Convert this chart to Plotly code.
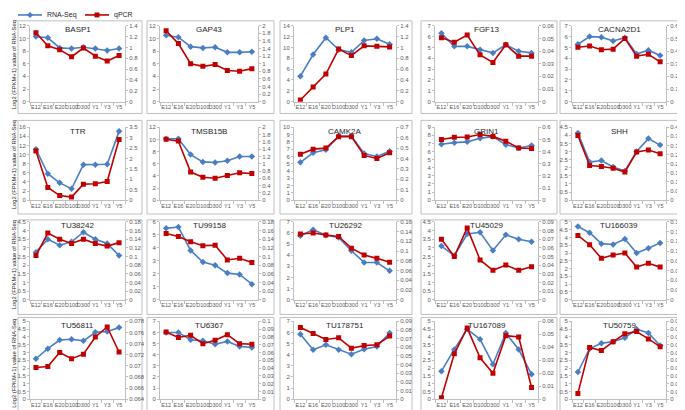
import plotly.graph_objects as go

# developmental stages on the x axis
stages = ["E12", "E16", "E20", "D100", "D300", "Y1", "Y3", "Y5"]

genes = ["BASP1", "GAP43", "PLP1", "FGF13", "CACNA2D1",
         "TTR", "TMSB15B", "CAMK2A", "GRIN1", "SHH",
         "TU38242", "TU99158", "TU26292", "TU45029", "TU166039",
         "TU56811", "TU6367", "TU178751", "TU167089", "TU50759"]

# log2(FPKM+1) of RNA-Seq (left axis)
rna_seq = [
    [10.3, 10.1, 8.5, 8.4, 8.6, 8.4, 8.1, 8.4],
    [10.5, 10.2, 8.7, 8.5, 8.6, 7.8, 7.8, 7.9],
    [4.7, 8.7, 11.8, 9.6, 9.1, 11.3, 11.6, 10.6],
    [6.3, 5.1, 5.1, 4.8, 4.5, 5.25, 4.65, 4.5],
    [5.3, 6.0, 5.95, 5.6, 5.9, 4.4, 4.75, 4.25],
    [11.2, 5.8, 3.8, 2.5, 7.8, 7.8, 7.9, 15.1],
    [10.1, 10.1, 7.5, 6.3, 6.2, 6.5, 7.2, 7.2],
    [5.2, 6.5, 6.9, 8.8, 8.8, 6.4, 6.0, 6.7],
    [6.9, 7.1, 7.2, 7.65, 7.85, 6.85, 6.45, 6.75],
    [4.15, 2.35, 2.45, 2.05, 1.8, 3.0, 3.8, 3.4],
    [2.75, 3.5, 3.15, 3.35, 3.9, 3.5, 3.25, 2.55],
    [5.5, 5.6, 3.8, 2.9, 2.65, 2.05, 1.95, 1.2],
    [5.75, 6.3, 5.8, 5.6, 4.4, 3.35, 3.35, 2.6],
    [3.1, 2.55, 3.8, 3.9, 2.85, 3.75, 3.5, 3.35],
    [4.7, 4.3, 3.6, 3.55, 3.9, 3.0, 3.3, 3.65],
    [2.6, 3.25, 3.8, 3.85, 3.75, 4.3, 4.35, 4.6],
    [6.0, 6.0, 5.35, 5.25, 4.95, 5.2, 4.75, 4.65],
    [5.85, 4.45, 4.9, 4.45, 4.05, 4.5, 4.75, 5.95],
    [1.8, 3.2, 4.5, 3.85, 2.25, 4.25, 3.2, 1.6],
    [1.75, 3.25, 3.6, 3.7, 3.95, 4.5, 4.25, 3.45],
]

# relative expression from qPCR (right axis)
qpcr = [
    [1.27, 1.03, 0.96, 0.83, 0.99, 0.84, 0.75, 0.85],
    [1.87, 1.53, 1.0, 0.93, 0.98, 0.82, 0.8, 0.87],
    [0.03, 0.27, 0.51, 0.97, 0.85, 1.03, 1.02, 1.01],
    [0.0506, 0.047, 0.0527, 0.037, 0.031, 0.045, 0.036, 0.036],
    [0.43, 0.44, 0.41, 0.415, 0.5, 0.36, 0.375, 0.315],
    [2.36, 0.61, 0.22, 0.15, 0.77, 0.79, 0.9, 2.91],
    [1.67, 1.62, 0.77, 0.63, 0.6, 0.68, 0.75, 0.73],
    [0.44, 0.49, 0.5, 0.61, 0.61, 0.43, 0.40, 0.455],
    [0.50, 0.517, 0.52, 0.54, 0.525, 0.485, 0.43, 0.425],
    [0.355, 0.19, 0.185, 0.175, 0.155, 0.265, 0.275, 0.255],
    [0.102, 0.154, 0.14, 0.13, 0.14, 0.13, 0.124, 0.132],
    [0.153, 0.146, 0.134, 0.125, 0.126, 0.092, 0.096, 0.086],
    [0.135, 0.137, 0.133, 0.13, 0.106, 0.092, 0.085, 0.077],
    [0.07, 0.05, 0.083, 0.046, 0.034, 0.04, 0.034, 0.038],
    [0.132, 0.113, 0.085, 0.092, 0.096, 0.067, 0.075, 0.067],
    [0.0697, 0.0699, 0.0724, 0.0713, 0.0721, 0.0752, 0.077, 0.0725],
    [0.0864, 0.0793, 0.0821, 0.0714, 0.0757, 0.0829, 0.0714, 0.0707],
    [0.083, 0.076, 0.069, 0.071, 0.059, 0.062, 0.063, 0.073],
    [0.0012, 0.035, 0.055, 0.032, 0.02, 0.049, 0.048, 0.009],
    [0.0015, 0.0133, 0.0125, 0.0148, 0.0168, 0.0174, 0.0155, 0.0135],
]

# axis scales (max, step) for left and (min, max, step) for right
left_scale = [(12, 2), (12, 2), (14, 2), (7, 1), (7, 1),
              (16, 2), (12, 2), (10, 1), (9, 1), (4.5, 0.5),
              (4.5, 0.5), (6, 1), (7, 1), (4.5, 0.5), (5, 0.5),
              (5, 0.5), (7, 1), (7, 1), (5, 0.5), (5, 0.5)]
right_scale = [(0, 1.4, 0.2), (0, 2, 0.2), (0, 1.4, 0.2), (0, 0.06, 0.01), (0, 0.6, 0.1),
               (0, 3.5, 0.5), (0, 2, 0.2), (0, 0.7, 0.1), (0, 0.6, 0.1), (0, 0.4, 0.05),
               (0, 0.18, 0.02), (0, 0.18, 0.02), (0, 0.16, 0.02), (0, 0.09, 0.01), (0, 0.16, 0.02),
               (0.064, 0.078, 0.002), (0, 0.1, 0.01), (0, 0.09, 0.01), (0, 0.06, 0.01), (0, 0.02, 0.002)]

W, H = 685, 410
BLUE = "#4A7EC4"
RED = "#C00000"
AXC = "#BFBFBF"
TXT = "#595959"
FONT = "Liberation Sans"

# pixel layout of panels
col_plot = [(22, 117), (152, 250), (286, 388), (427, 530), (564, 658)]
col_box = [(10, 134), (139, 266), (272, 404), (413, 549), (552, 670)]
row_plot = [(15, 92), (118, 192), (214, 293), (315, 394)]
row_box = [(10, 104), (111, 206), (212, 308), (311, 409)]

px = lambda v: v / W
py = lambda v: 1 - v / H

fig = go.Figure()
layout = {}
shapes = []
annotations = []

tick_font = dict(size=6, color=TXT, family=FONT)

for i, g in enumerate(genes):
    r, c = divmod(i, 5)
    xid = "x" if i == 0 else f"x{i+1}"
    yl = "y" if i == 0 else f"y{2*i+1}"
    yr = f"y{2*i+2}"
    fig.add_trace(go.Scatter(x=stages, y=rna_seq[i], xaxis=xid, yaxis=yl,
                             mode="lines+markers", name="RNA-Seq",
                             line=dict(color=BLUE, width=1.6),
                             marker=dict(symbol="diamond", size=5, color=BLUE),
                             showlegend=False))
    fig.add_trace(go.Scatter(x=stages, y=qpcr[i], xaxis=xid, yaxis=yr,
                             mode="lines+markers", name="qPCR",
                             line=dict(color=RED, width=1.6),
                             marker=dict(symbol="square", size=5, color=RED),
                             showlegend=False))

    x0, x1 = col_plot[c]
    yt, yb = row_plot[r]
    layout["xaxis" if i == 0 else f"xaxis{i+1}"] = dict(
        domain=[px(x0), px(x1)], anchor=yl, type="category",
        range=[-0.5, 7.5], showline=True, linecolor=AXC, linewidth=1,
        ticks="outside", ticklen=3, tickcolor=AXC, tickson="boundaries",
        tickangle=0, tickfont=dict(size=5.5, color=TXT, family=FONT),
        showgrid=False, zeroline=False, fixedrange=True)
    lmax, lstep = left_scale[i]
    layout["yaxis" if i == 0 else f"yaxis{2*i+1}"] = dict(
        domain=[py(yb), py(yt)], anchor=xid, range=[0, lmax], dtick=lstep,
        tick0=0, showline=True, linecolor=AXC, ticks="outside", ticklen=2,
        tickcolor=AXC, tickfont=tick_font, showgrid=False, zeroline=False)
    rmin, rmax, rstep = right_scale[i]
    layout[f"yaxis{2*i+2}"] = dict(
        overlaying=yl, side="right", anchor=xid, range=[rmin, rmax],
        dtick=rstep, tick0=rmin, showline=True, linecolor=AXC, ticks="outside",
        ticklen=2, tickcolor=AXC, tickfont=tick_font, showgrid=False,
        zeroline=False)

    bx0, bx1 = col_box[c]
    by0, by1 = row_box[r]
    shapes.append(dict(type="rect", xref="paper", yref="paper",
                       x0=px(bx0), x1=px(bx1), y0=py(by1), y1=py(by0),
                       line=dict(color=AXC, width=1), layer="below"))
    annotations.append(dict(text=g, x=px((x0 + x1) / 2), y=py(yt + 4),
                            xref="paper", yref="paper", showarrow=False,
                            font=dict(size=8, color="#262626", family=FONT),
                            xanchor="center", yanchor="middle"))

for r in range(4):
    by0, by1 = row_box[r]
    yc = (by0 + by1) / 2 - 2
    annotations.append(dict(text="Log2 (FPKM+1) value of RNA-Seq", textangle=-90,
                            x=px(6), y=py(yc), xref="paper", yref="paper",
                            showarrow=False, xanchor="center", yanchor="middle",
                            font=dict(size=5.8, color="#262626", family=FONT)))
    annotations.append(dict(text="Relative expression of qPCR", textangle=-90,
                            x=px(673), y=py(yc), xref="paper", yref="paper",
                            showarrow=False, xanchor="center", yanchor="middle",
                            font=dict(size=6, color="#262626", family=FONT)))

# legend drawn by hand at the top-left corner
leg_items = [("RNA-Seq", BLUE, "diamond", 10), ("qPCR", RED, "square", 77)]
ly = py(4)
for label, col, sym, lx in leg_items:
    shapes.append(dict(type="line", xref="paper", yref="paper",
                       x0=px(lx), x1=px(lx + 24), y0=ly, y1=ly,
                       line=dict(color=col, width=1.6)))
    mx = lx + 12
    if sym == "diamond":
        path = (f"M {px(mx)} {py(1)} L {px(mx + 3)} {ly} L {px(mx)} {py(7)} "
                f"L {px(mx - 3)} {ly} Z")
        shapes.append(dict(type="path", xref="paper", yref="paper", path=path,
                           fillcolor=col, line=dict(color=col, width=0)))
    else:
        shapes.append(dict(type="rect", xref="paper", yref="paper",
                           x0=px(mx - 2.5), x1=px(mx + 2.5), y0=py(6.5), y1=py(1.5),
                           fillcolor=col, line=dict(color=col, width=0)))
    annotations.append(dict(text=label, x=px(lx + 27), y=ly, xref="paper", yref="paper",
                            showarrow=False, xanchor="left", yanchor="middle",
                            font=dict(size=7, color="#262626", family=FONT)))

fig.update_layout(**layout)
fig.update_layout(
    width=W, height=H,
    margin=dict(l=0, r=0, t=0, b=0),
    paper_bgcolor="white", plot_bgcolor="white",
    shapes=shapes, annotations=annotations,
    showlegend=False,
    font=dict(family=FONT),
)

fig.write_html("out.html")
